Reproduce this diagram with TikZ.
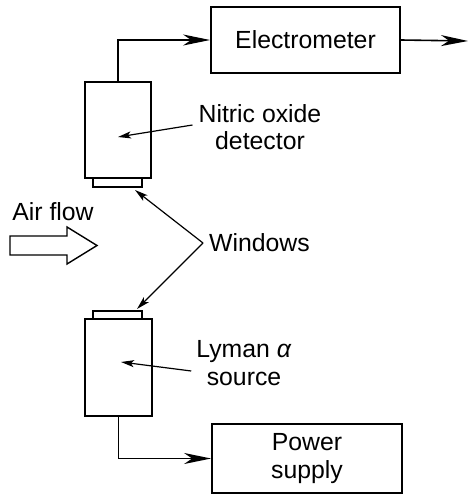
\documentclass[tikz,border=0pt]{standalone}
\usepackage{fontspec}
\setmainfont{Liberation Sans}
\usetikzlibrary{arrows.meta}
\begin{document}
\begin{tikzpicture}[x=1pt,y=-1pt,
  every node/.style={font=\fontsize{24.8}{27.5}\selectfont},
  box/.style={draw,line width=1.8pt,inner sep=0pt},
  conn/.style={line width=1.6pt,-{Stealth[length=27pt,width=11pt,inset=8pt]}},
  ptr/.style={line width=1.2pt,-{Stealth[length=13pt,width=7pt,inset=3pt]}},
  lab/.style={align=center,inner sep=0pt}]
\useasboundingbox (0,0) rectangle (469,495);
% boxes
\node[box,minimum width=189pt,minimum height=66pt] (elec) at (305.5,40) {Electrometer};
\node[box,minimum width=66pt,minimum height=96pt] (det) at (118,130) {};
\node[box,minimum width=49pt,minimum height=9pt] (detwin) at (117.5,182.5) {};
\node[box,minimum width=49pt,minimum height=8pt] (srcwin) at (117.5,315) {};
\node[box,minimum width=67pt,minimum height=97pt] (src) at (118.5,367.5) {};
\node[box,minimum width=190pt,minimum height=69pt,align=center] (psu) at (307,458.5) {Power\\supply};
% labels
\node[lab] (nolab) at (260,127) {Nitric oxide\\detector};
\node[lab] (lylab) at (244,363) {Lyman \textit{α}\\source};
\node[lab,anchor=west] (winlab) at (209,243) {Windows};
\node[lab] (airlab) at (53,212) {Air flow};
% coordinates
\coordinate (out) at (468,41);
\coordinate (detpt) at (118,137);
\coordinate (srcpt) at (121,362);
\coordinate (w1) at (135,190);
\coordinate (w2) at (137,309);
\coordinate (winv) at (203,243);
% connectors
\draw[conn] (det.north) |- (elec.west);
\draw[conn] (elec.east) -- (out);
\draw[conn] (src.south) |- (psu.west);
\draw[ptr] ([xshift=-6pt,yshift=2pt]nolab.west) -- (detpt);
\draw[ptr] ([xshift=-5pt,yshift=-8pt]lylab.west) -- (srcpt);
\draw[ptr] (winv) -- (w1);
\draw[ptr] (winv) -- (w2);
% air flow arrow
\draw[line width=1.4pt,line join=miter] (10,236) -- (67,236) -- (67,227) -- (97,245.5) -- (67,264) -- (67,255) -- (10,255) -- cycle;
\end{tikzpicture}
\end{document}
